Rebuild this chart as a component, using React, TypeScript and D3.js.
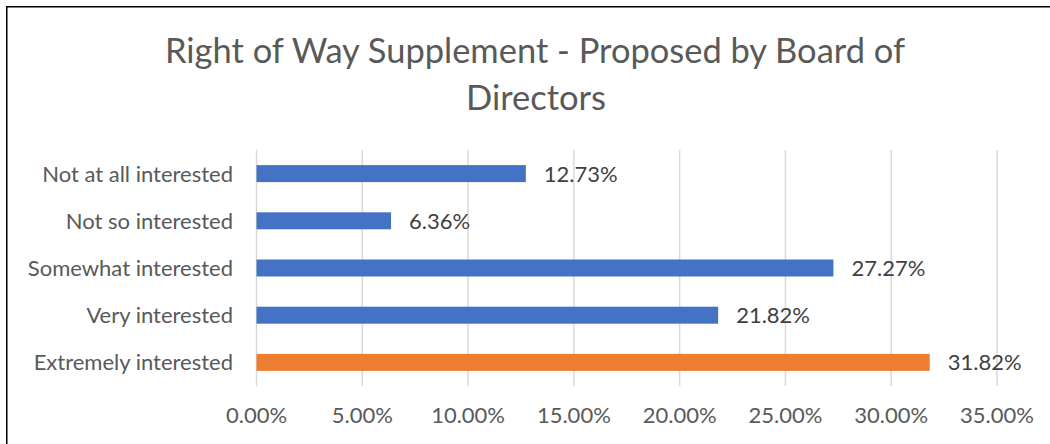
import React from "react";
import * as d3 from "d3";

const categories = [
  "Not at all interested",
  "Not so interested",
  "Somewhat interested",
  "Very interested",
  "Extremely interested",
];
const values = [12.73, 6.36, 27.27, 21.82, 31.82];
const barColors = ["#4472C4", "#4472C4", "#4472C4", "#4472C4", "#ED7D31"];
const xTicks = [0, 5, 10, 15, 20, 25, 30, 35];
const titleLines = ["Right of Way Supplement - Proposed by Board of", "Directors"];

const W = 1050;
const H = 444;
const FONT = "Lato, 'Open Sans', sans-serif";

export default function App() {
  const x = d3.scaleLinear().domain([0, 35]).range([256.5, 997]);
  const y = d3
    .scaleBand<string>()
    .domain(categories)
    .range([150, 386])
    .paddingInner(0.64)
    .paddingOuter(0.32);
  const bh = y.bandwidth();
  return (
    <div style={{ position: "absolute", left: 0, top: 0, width: W, height: H, background: "#fff" }}>
      <svg width={W} height={H} style={{ display: "block" }}>
        <rect x={0} y={0} width={W} height={H} fill="#fff" />
        <line x1={6.75} y1={6} x2={6.75} y2={H} stroke="#000" strokeWidth={1.5} />
        <line x1={6} y1={6.75} x2={W} y2={6.75} stroke="#000" strokeWidth={1.5} />
        <text
          x={535}
          y={62.5}
          textAnchor="middle"
          fontFamily={FONT}
          fontWeight={400}
          fontSize={35}
          fill="#595959"
          textLength={740}
          lengthAdjust="spacingAndGlyphs"
        >
          {titleLines[0]}
        </text>
        <text
          x={536}
          y={109.5}
          textAnchor="middle"
          fontFamily={FONT}
          fontWeight={400}
          fontSize={35}
          fill="#595959"
          textLength={140}
          lengthAdjust="spacingAndGlyphs"
        >
          {titleLines[1]}
        </text>
        {xTicks.map((t) => (
          <line
            key={"g" + t}
            x1={x(t)}
            x2={x(t)}
            y1={150}
            y2={386}
            stroke="#d9d9d9"
            strokeWidth={1.5}
          />
        ))}
        {categories.map((c, i) => (
          <rect
            key={c}
            x={x(0)}
            y={y(c)!}
            width={x(values[i]) - x(0)}
            height={bh}
            fill={barColors[i]}
          />
        ))}
        {categories.map((c, i) => (
          <text
            key={"c" + c}
            x={233}
            y={y(c)! + bh / 2 + 8}
            textAnchor="end"
            fontFamily={FONT}
            fontSize={22}
            fill="#595959"
          >
            {c}
          </text>
        ))}
        {categories.map((c, i) => (
          <text
            key={"v" + c}
            x={x(values[i]) + 18}
            y={y(c)! + bh / 2 + 8}
            fontFamily={FONT}
            fontSize={22}
            fill="#404040"
          >
            {values[i].toFixed(2) + "%"}
          </text>
        ))}
        {xTicks.map((t) => (
          <text
            key={"t" + t}
            x={x(t)}
            y={423}
            textAnchor="middle"
            fontFamily={FONT}
            fontSize={22}
            fill="#595959"
          >
            {t.toFixed(2) + "%"}
          </text>
        ))}
      </svg>
    </div>
  );
}
